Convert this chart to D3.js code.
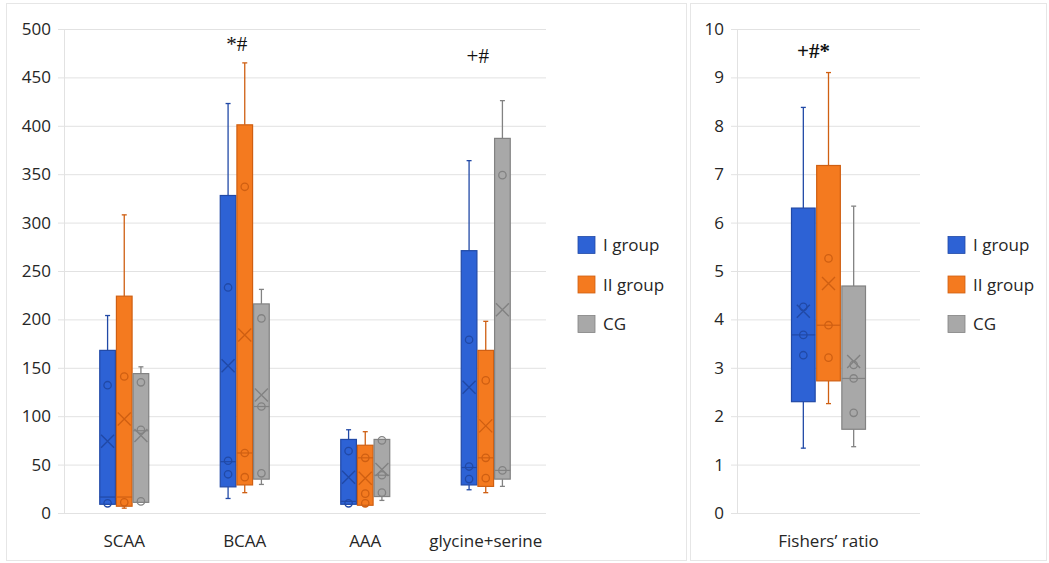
<!DOCTYPE html>
<html>
<head>
  <meta charset="utf-8">
  <title>Amino acid box plots</title>
  <script src="https://d3js.org/d3.v7.min.js"></script>
  <style>
    body { margin: 0; background: #fff; }
    text { font-family: "Open Sans", sans-serif; fill: #262626; }
    .grid line { stroke: #e2e2e2; }
    .grid path { display: none; }
    .grid text { font-size: 17px; }
  </style>
</head>
<body>
<svg id="chart"></svg>
<script>
  var groups = ["I group", "II group", "CG"];
  var fills = ["#2d62d5", "#f47a1f", "#a8a8a8"];
  var strokes = ["#2149a6", "#cf5f12", "#828282"];

  // amino acid panel: [whisker min, Q1, median, Q3, whisker max] per category
  var aminoCategories = ["SCAA", "BCAA", "AAA", "glycine+serine"];
  var aminoStatsI = [[9, 9, 16.5, 168, 204], [15, 27, 53, 328, 423], [9, 9, 12, 76, 86], [24, 29, 47, 271, 364]];
  var aminoStatsII = [[5, 7, 16.5, 224, 308], [21, 29, 62, 401, 465], [7, 8, 57, 70, 84], [21, 27.5, 57, 168, 198]];
  var aminoStatsCG = [[11, 11, 85, 144, 151], [29.5, 35, 110, 216, 231], [13, 17, 39, 76, 76], [27.5, 35, 44, 387, 426]];
  var aminoMeanI = [74, 152, 37, 130];
  var aminoMeanII = [97, 184, 36, 90];
  var aminoMeanCG = [80, 122, 45, 210];
  var aminoPointsI = [[10, 132], [40, 54, 233], [10, 64], [35, 48, 179]];
  var aminoPointsII = [[11, 141], [37, 62, 337], [10, 20, 57], [36, 57, 137]];
  var aminoPointsCG = [[12, 86, 135], [41, 110, 201], [21, 39, 75], [44, 349]];
  var aminoMarks = ["", "*#", "", "+#"];

  // Fisher's ratio panel
  var fisherCategories = ["Fishers\u2019 ratio"];
  var fisherStatsI = [[1.34, 2.30, 3.68, 6.30, 8.38]];
  var fisherStatsII = [[2.26, 2.73, 3.88, 7.18, 9.10]];
  var fisherStatsCG = [[1.37, 1.73, 2.78, 4.69, 6.34]];
  var fisherMeanI = [4.17];
  var fisherMeanII = [4.74];
  var fisherMeanCG = [3.13];
  var fisherPointsI = [[3.26, 3.68, 4.26]];
  var fisherPointsII = [[3.21, 3.88, 5.26]];
  var fisherPointsCG = [[2.07, 2.78, 3.06]];
  var fisherMarks = ["+#*"];

  var width = 1049, height = 563;
  var svg = d3.select("#chart").attr("width", width).attr("height", height);

  // panel frames
  svg.append("rect").attr("x", 6.5).attr("y", 3.5).attr("width", 680).attr("height", 557)
    .attr("fill", "none").attr("stroke", "#e6e6e6");
  svg.append("rect").attr("x", 690.5).attr("y", 3.5).attr("width", 356).attr("height", 557)
    .attr("fill", "none").attr("stroke", "#e6e6e6");

  function drawPanel(p) {
    var g = svg.append("g");
    var y = d3.scaleLinear().domain([0, p.yMax]).range([513, 29]);
    var x = d3.scaleBand().domain(p.categories).range(p.xRange);
    var inner = d3.scaleBand().domain(groups).range([-p.span / 2, p.span / 2]).paddingInner(0.06);
    var plotW = p.xRange[1] - p.xRange[0];

    // gridlines + tick labels
    g.append("g")
      .attr("class", "grid")
      .attr("transform", "translate(" + p.xRange[1] + ",0)")
      .call(d3.axisLeft(y).tickValues(d3.range(0, p.yMax + p.step / 2, p.step))
        .tickSize(plotW + 6).tickPadding(7));

    g.append("line")
      .attr("x1", p.xRange[0] + 0.5).attr("x2", p.xRange[0] + 0.5)
      .attr("y1", y(p.yMax)).attr("y2", y(0))
      .attr("stroke", "#e2e2e2");

    // category labels
    g.selectAll(".cat-label")
      .data(p.categories)
      .enter()
      .append("text")
      .attr("x", d => x(d) + x.bandwidth() / 2)
      .attr("y", 547)
      .attr("text-anchor", "middle")
      .style("font-size", "17px")
      .text(d => d);

    groups.forEach(function(grp, gi) {
      var stats = p.stats[gi], means = p.means[gi], pts = p.points[gi];
      var w = inner.bandwidth();
      p.categories.forEach(function(cat, ci) {
        var s = stats[ci];
        var cx = x(cat) + x.bandwidth() / 2 + inner(grp) + w / 2;
        var box = g.append("g");

        // whiskers
        box.append("line").attr("x1", cx).attr("x2", cx)
          .attr("y1", y(s[4])).attr("y2", y(s[3]))
          .attr("stroke", strokes[gi]).attr("stroke-width", 1.3);
        box.append("line").attr("x1", cx).attr("x2", cx)
          .attr("y1", y(s[1])).attr("y2", y(s[0]))
          .attr("stroke", strokes[gi]).attr("stroke-width", 1.3);
        [s[0], s[4]].forEach(function(v) {
          box.append("line").attr("x1", cx - 2.5).attr("x2", cx + 2.5)
            .attr("y1", y(v)).attr("y2", y(v))
            .attr("stroke", strokes[gi]).attr("stroke-width", 1.3);
        });

        // box
        box.append("rect")
          .attr("x", cx - w / 2).attr("y", y(s[3]))
          .attr("width", w).attr("height", y(s[1]) - y(s[3]))
          .attr("fill", fills[gi]).attr("stroke", strokes[gi]).attr("stroke-width", 1.2);

        // median
        box.append("line").attr("x1", cx - w / 2).attr("x2", cx + w / 2)
          .attr("y1", y(s[2])).attr("y2", y(s[2]))
          .attr("stroke", strokes[gi]).attr("stroke-width", 1.2);

        // inner points
        box.selectAll("circle")
          .data(pts[ci])
          .enter()
          .append("circle")
          .attr("cx", cx).attr("cy", d => y(d)).attr("r", 3.7)
          .attr("fill", "none").attr("stroke", strokes[gi]).attr("stroke-width", 1.3);

        // mean marker
        var my = y(means[ci]), m = p.xSize;
        box.append("path")
          .attr("d", "M" + (cx - m) + "," + (my - m) + "L" + (cx + m) + "," + (my + m) +
            "M" + (cx + m) + "," + (my - m) + "L" + (cx - m) + "," + (my + m))
          .attr("stroke", strokes[gi]).attr("stroke-width", 1.4).attr("fill", "none");
      });
    });

    // significance marks
    g.selectAll(".mark")
      .data(p.marks)
      .enter()
      .append("text")
      .attr("x", (d, i) => x(p.categories[i]) + x.bandwidth() / 2 + p.markDx)
      .attr("y", (d, i) => y(p.markY[i]))
      .attr("text-anchor", "middle")
      .style("font-family", "'Liberation Serif', serif")
      .style("font-size", "21px")
      .style("font-weight", p.markBold ? "bold" : "normal")
      .style("fill", "#111")
      .text(d => d);

    // legend
    var lg = g.append("g").attr("transform", "translate(" + p.legendX + ",0)");
    groups.forEach(function(grp, gi) {
      var ly = 245 + gi * 39.5;
      lg.append("rect").attr("x", 0).attr("y", ly - 8.5).attr("width", 17).attr("height", 17)
        .attr("fill", fills[gi]).attr("stroke", strokes[gi]).attr("stroke-width", 0.8);
      lg.append("text").attr("x", 25).attr("y", ly + 6)
        .style("font-size", "17px").text(grp);
    });
  }

  drawPanel({
    categories: aminoCategories,
    stats: [aminoStatsI, aminoStatsII, aminoStatsCG],
    means: [aminoMeanI, aminoMeanII, aminoMeanCG],
    points: [aminoPointsI, aminoPointsII, aminoPointsCG],
    marks: aminoMarks,
    markY: [0, 477, 0, 465],
    markDx: -8,
    markBold: false,
    yMax: 500, step: 50,
    xRange: [64, 546],
    span: 49,
    xSize: 6.5,
    legendX: 578
  });

  drawPanel({
    categories: fisherCategories,
    stats: [fisherStatsI, fisherStatsII, fisherStatsCG],
    means: [fisherMeanI, fisherMeanII, fisherMeanCG],
    points: [fisherPointsI, fisherPointsII, fisherPointsCG],
    marks: fisherMarks,
    markY: [9.4],
    markDx: -15,
    markBold: true,
    yMax: 10, step: 1,
    xRange: [737, 920],
    span: 74,
    xSize: 6.5,
    legendX: 948
  });
</script>
</body>
</html>
